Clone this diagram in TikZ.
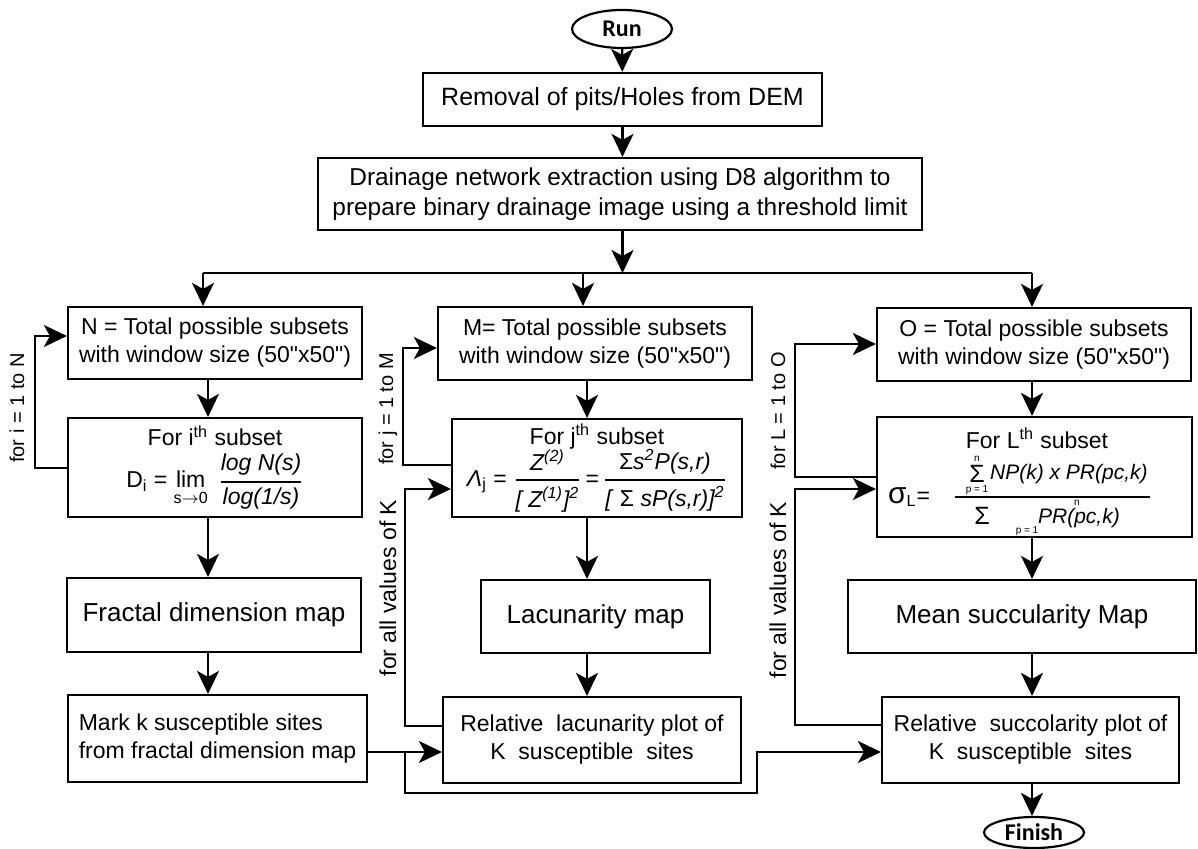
\documentclass[tikz,border=0pt]{standalone}
\usepackage{fontspec}
\setmainfont{Liberation Sans}
\newfontfamily\termfont{Carlito}
\usepackage{amsmath}
\usetikzlibrary{arrows.meta,shapes.geometric}
\newcommand\dq{\XeTeXglyph\XeTeXcharglyph"22\relax}
\begin{document}
\begin{tikzpicture}[x=0.5pt,y=-0.5pt,
  line width=1.1pt,
  box/.style={draw, line width=1.1pt, align=center, inner sep=1pt, font=\fontsize{11.5}{14}\selectfont},
  bigbox/.style={box, font=\fontsize{13}{15}\selectfont},
  term/.style={draw, ellipse, line width=1.1pt, inner sep=0pt, font=\termfont\bfseries\fontsize{12}{14}\selectfont},
  arr/.style={-{Stealth[length=11.5pt,width=11pt,inset=3pt]}, line width=1.1pt},
  lbl/.style={rotate=90, inner sep=0pt, font=\fontsize{10}{12}\selectfont},
  lblk/.style={rotate=90, inner sep=0pt, font=\fontsize{11.5}{12}\selectfont},
  ft/.style={inner sep=0pt, font=\fontsize{11.5}{14}\selectfont},
  fit/.style={inner sep=0pt, font=\itshape\fontsize{10.5}{12}\selectfont},
  tiny/.style={inner sep=0pt, font=\fontsize{5}{6}\selectfont}]
\useasboundingbox (0,0) rectangle (1198,849);

% nodes
\node[term, minimum width=50pt, minimum height=19pt] (Run) at (622,29) {Run};
\node[box, font=\fontsize{12.5}{15}\selectfont, minimum width=199.5pt, minimum height=26.5pt] (Rem) at (622.5,99.5) {Removal of pits/Holes from DEM};
\node[box, font=\fontsize{12.2}{15}\selectfont, minimum width=302pt, minimum height=36pt] (Dr) at (620,194) {Drainage network extraction using D8 algorithm to\\prepare binary drainage image using a threshold limit};

\node[box, minimum width=147pt, minimum height=36pt] (N) at (215,343) {N = Total possible subsets\\with window size (50\dq x50\dq)};
\node[box, minimum width=157pt, minimum height=36.5pt] (M) at (595,343.5) {M= Total possible subsets\\with window size (50\dq x50\dq)};
\node[box, minimum width=157pt, minimum height=36.5pt] (O) at (1034,344.5) {O = Total possible subsets\\with window size (50\dq x50\dq)};

\node[box, minimum width=147pt, minimum height=49.5pt] (Fi) at (215,467.5)
  {For i\textsuperscript{th} subset\\[3pt]
   D\textsubscript{i} = $\mathop{\text{lim}}\limits_{\text{s$\to$0}}\;\genfrac{}{}{0.9pt}{0}{\text{\itshape log N(s)}}{\text{\itshape log(1/s)}}$};
\node[box, minimum width=145pt, minimum height=49pt] (Fj) at (597,468)
  {For j\textsuperscript{th} subset\\[-1pt]
   \textit{Λ}\textsubscript{j} = $\genfrac{}{}{0.9pt}{0}{\text{\itshape Z\textsuperscript{(2)}}}{\text{\itshape [ Z\textsuperscript{(1)}]\textsuperscript{2}}}$\,=\,$\genfrac{}{}{0.9pt}{0}{\text{\itshape\textup{Σ}s\textsuperscript{2}P(s,r)}}{\text{\itshape [ \textup{Σ} sP(s,r)]\textsuperscript{2}}}$};

% For L box with its formula
\node[box, minimum width=157.5pt, minimum height=60pt] (FL) at (1034.5,477) {};
\node[ft] (FLt) at (1037,438) {For L\textsuperscript{th} subset};
\node[ft, anchor=west] (FLs) at (887,497) {{\fontsize{15}{16}\selectfont σ}\textsubscript{L}=};
\node[ft, font=\fontsize{12.5}{14}\selectfont] (FLn1) at (977,474) {Σ};
\node[tiny] (FLn2) at (977,459) {n};
\node[tiny] (FLn3) at (977,490) {p = 1};
\node[fit, anchor=west] (FLn4) at (989,474) {NP(k) x PR(pc,k)};
\coordinate (FLa) at (955,497);
\coordinate (FLb) at (1150,497);
\draw[line width=1.1pt] (FLa) -- (FLb);
\node[ft, font=\fontsize{12.5}{14}\selectfont] (FLd1) at (982,516) {Σ};
\node[tiny] (FLd2) at (1077,503) {n};
\node[tiny] (FLd3) at (1027,531) {p = 1};
\node[fit, anchor=west] (FLd4) at (1037,518) {PR(pc,k)};

\node[bigbox, minimum width=147pt, minimum height=37pt] (Fr) at (214,615) {Fractal dimension map};
\node[bigbox, minimum width=114.5pt, minimum height=36.5pt] (Lac) at (595.5,616.5) {Lacunarity map};
\node[bigbox, minimum width=174pt, minimum height=36.5pt] (Mean) at (1022,616.5) {Mean succularity Map};

\node[box, align=left, minimum width=149.5pt, minimum height=43.5pt] (Mark) at (217.5,738.5) {Mark k susceptible sites\\from fractal dimension map};
\node[box, minimum width=149pt, minimum height=43pt] (RelLac) at (592,740) {Relative\ \ lacunarity plot of\\K\ \ susceptible\ \ sites};
\node[box, minimum width=148.5pt, minimum height=43pt] (RelSucc) at (1030.5,740) {Relative\ \ succolarity plot of\\K\ \ susceptible\ \ sites};

\node[term, minimum width=50pt, minimum height=15.5pt] (Fin) at (1034,832.5) {Finish};

% loop labels
\node[lbl] (tI) at (17,408) {for i = 1 to N};
\node[lbl] (tJ) at (388,409) {for j = 1 to M};
\node[lblk] (tK1) at (388,588) {for all values of K};
\node[lbl] (tL) at (778,411) {for L = 1 to O};
\node[lblk] (tK2) at (778,590) {for all values of K};

% helper coordinates
\coordinate (cL) at (208,0);
\coordinate (cM) at (587,0);
\coordinate (cR) at (1032,0);
\coordinate (bL) at (203,273);
\coordinate (bM) at (583,273);
\coordinate (bR) at (1032,273);
\coordinate (li1) at (35,468);
\coordinate (li2) at (35,336);
\coordinate (lj1) at (403,465);
\coordinate (lj2) at (403,348);
\coordinate (lk1) at (405,726);
\coordinate (lk2) at (405,489);
\coordinate (lL1) at (795,477);
\coordinate (lL2) at (795,344);
\coordinate (lr1) at (795,725);
\coordinate (lr2) at (795,489);
\coordinate (p1) at (405,752);
\coordinate (p2) at (405,793);
\coordinate (p3) at (757,793);
\coordinate (p4) at (757,752);

% main flow
\draw[arr] (Run) -- (Rem);
\draw[arr] (Rem) -- (Dr.north -| Rem.south);
\draw[arr] (Dr.south -| Rem.south) -- (bM -| Rem.south);
\draw (bL) -- (bR);
\draw[arr] (bL) -- (bL |- N.north);
\draw[arr] (bM) -- (bM |- M.north);
\draw[arr] (bR) -- (bR |- O.north);

\draw[arr] (N.south -| cL) -- (Fi.north -| cL);
\draw[arr] (Fi.south -| cL) -- (Fr.north -| cL);
\draw[arr] (Fr.south -| cL) -- (Mark.north -| cL);

\draw[arr] (M.south -| cM) -- (Fj.north -| cM);
\draw[arr] (Fj.south -| cM) -- (Lac.north -| cM);
\draw[arr] (Lac.south -| cM) -- (RelLac.north -| cM);

\draw[arr] (O.south -| cR) -- (FL.north -| cR);
\draw[arr] (FL.south -| cR) -- (Mean.north -| cR);
\draw[arr] (Mean.south -| cR) -- (RelSucc.north -| cR);
\draw[arr] (RelSucc.south -| cR) -- (Fin.north -| cR);

% loops
\draw[arr] (Fi.west |- li1) -- (li1) -- (li2) -- (N.west |- li2);
\draw[arr] (Fj.west |- lj1) -- (lj1) -- (lj2) -- (M.west |- lj2);
\draw[arr] (RelLac.west |- lk1) -- (lk1) -- (lk2) -- (Fj.west |- lk2);
\draw[arr] (FL.west |- lL1) -- (lL1) -- (lL2) -- (O.west |- lL2);
\draw[arr] (RelSucc.west |- lr1) -- (lr1) -- (lr2) -- (FL.west |- lr2);

% k sites
\draw[arr] (Mark.east |- p1) -- (RelLac.west |- p1);
\draw[arr] (p1) -- (p2) -- (p3) -- (p4) -- (RelSucc.west |- p4);
\end{tikzpicture}
\end{document}
